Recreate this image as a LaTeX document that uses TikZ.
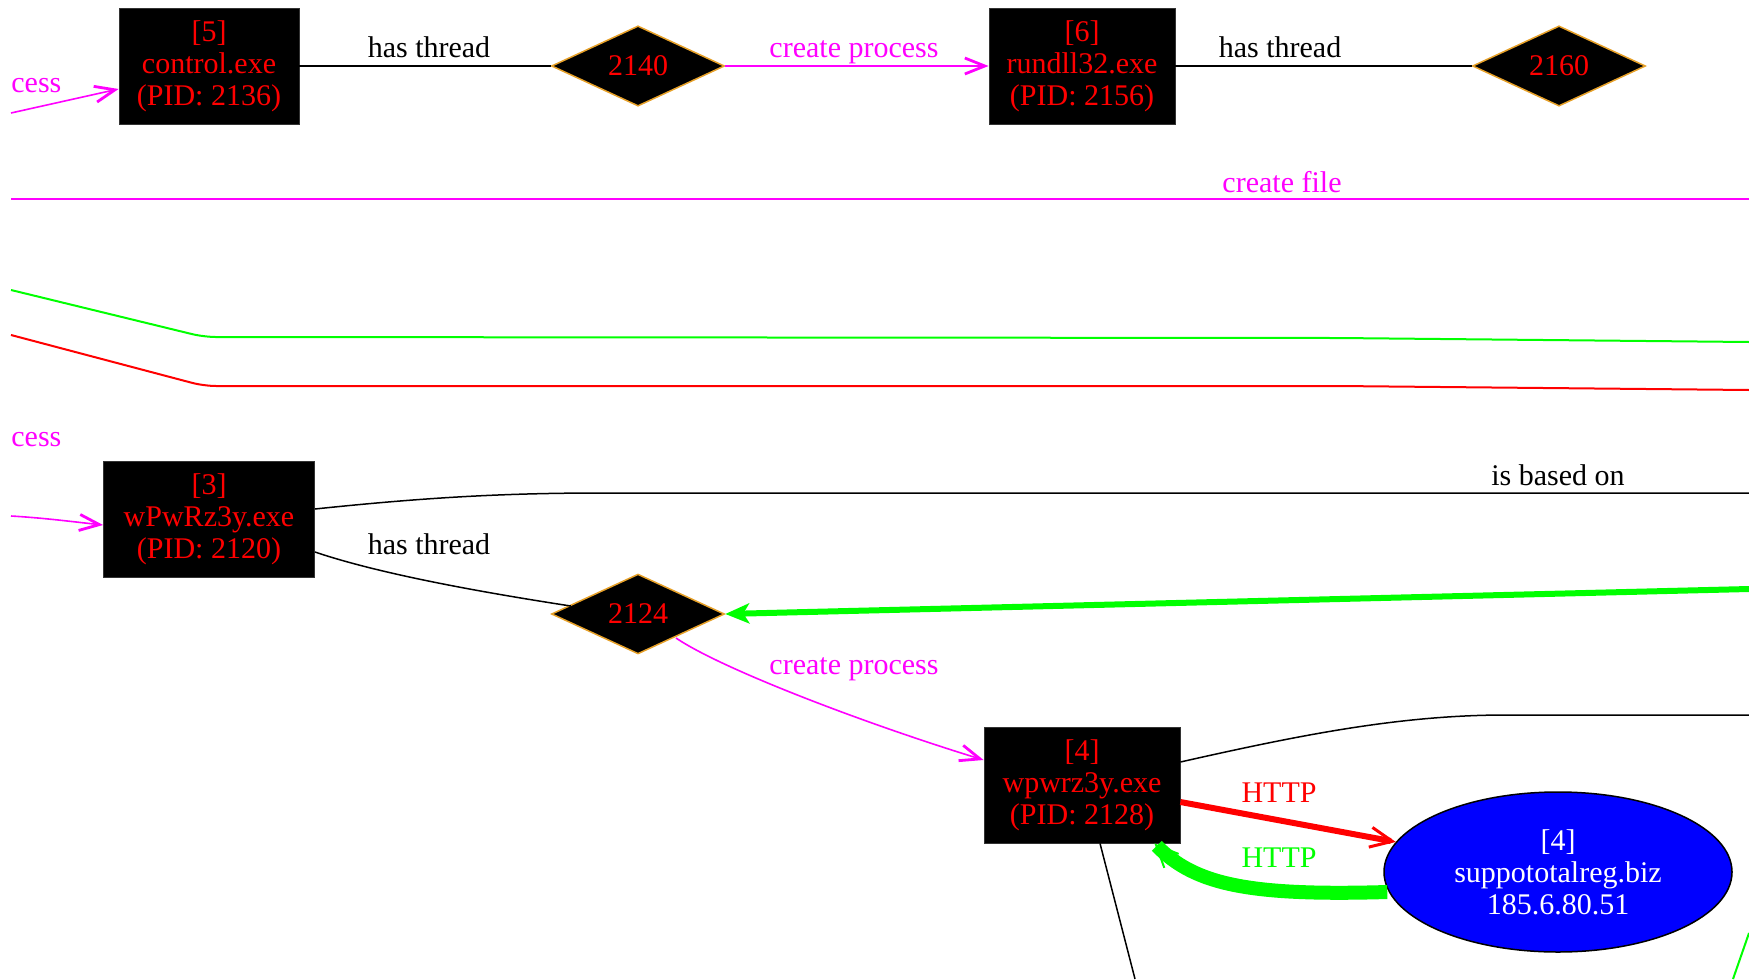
\documentclass[tikz,border=0pt]{standalone}
\usepackage{fontspec}
\setmainfont{Liberation Serif}
\usetikzlibrary{shapes.geometric,arrows.meta}
\definecolor{mag}{RGB}{255,0,255}
\definecolor{lime}{RGB}{0,255,0}
\definecolor{dborder}{RGB}{230,160,40}
\begin{document}
\begin{tikzpicture}[x=0.5pt,y=-0.5pt,
  every node/.style={font=\fontsize{15}{16}\selectfont},
  proc/.style={rectangle,fill=black,draw=black!80,text=red,align=center,minimum height=58pt,inner sep=0pt},
  thr/.style={diamond,fill=black,draw=dborder,line width=0.75pt,text=red,minimum width=86.5pt,minimum height=38pt,inner sep=0pt},
  dom/.style={ellipse,fill=blue,draw=black,line width=0.75pt,text=white,align=center,minimum width=174pt,minimum height=80pt,inner sep=0pt},
  lbl/.style={inner sep=0pt},
  blk/.style={draw=black,line width=0.75pt},
  mg/.style={draw=mag,line width=0.8pt},
  barb/.style={-{Straight Barb[length=10pt,width=8pt,line width=1.4pt]}},
]
\useasboundingbox (0,0) rectangle (1749,979);

% nodes
\node[proc,minimum width=90pt] (n5) at (209,66) {[5]\\control.exe\\(PID: 2136)};
\node[thr] (t2140) at (638,66) {2140};
\node[proc,minimum width=93pt] (n6) at (1082,66) {[6]\\rundll32.exe\\(PID: 2156)};
\node[thr] (t2160) at (1559,66) {2160};
\node[proc,minimum width=105.5pt] (n3) at (209,519) {[3]\\wPwRz3y.exe\\(PID: 2120)};
\node[thr] (t2124) at (638,614) {2124};
\node[proc,minimum width=98pt] (n4) at (1082,785) {[4]\\wpwrz3y.exe\\(PID: 2128)};
\node[dom] (d4) at (1558,872) {[4]\\suppototalreg.biz\\185.6.80.51};

% free ends
\coordinate (a5) at (11,113);
\coordinate (a3) at (11,516);
\coordinate (cfL) at (11,199);
\coordinate (cfR) at (1749,199);
\coordinate (gL) at (11,290);
\coordinate (gR) at (1749,342);
\coordinate (rL) at (11,335);
\coordinate (rR) at (1749,390);
\coordinate (ibR) at (1749,493);
\coordinate (g2124) at (1749,589);
\coordinate (n4R) at (1749,715);
\coordinate (n4B) at (1135,979);
\coordinate (gbA) at (1749,933);
\coordinate (gbB) at (1733,979);

% row 1
\draw[mg,barb] (a5) -- ([yshift=-11.5pt]n5.west);
\node[lbl,text=mag,anchor=west] (c1) at (11,86) {cess};
\draw[blk] (n5) -- (t2140);
\node[lbl] (l1) at (429,47) {has thread};
\draw[mg,barb] (t2140) -- (n6);
\node[lbl,text=mag] (l2) at (854,52) {create process};
\draw[blk] (n6) -- (t2160);
\node[lbl] (l3) at (1280,47) {has thread};

% long lines
\draw[draw=mag,line width=1pt] (cfL) -- (cfR);
\node[lbl,text=mag] (l4) at (1282,182) {create file};
\draw[draw=lime,line width=1pt,rounded corners=6pt] (gL) -- (204,337) -- (1338,338) -- (gR);
\draw[draw=red,line width=1pt,rounded corners=6pt] (rL) -- (204,386) -- (1338,386) -- (rR);

% row 3
\node[lbl,text=mag,anchor=west] (c2) at (11,440) {cess};
\draw[mg,barb] (a3) .. controls (45,518) and (75,522) .. ([yshift=-3pt]n3.west);
\draw[blk] ([yshift=5pt]n3.east) .. controls (420,498) and (500,493) .. (602,493) -- (ibR);
\node[lbl] (l5) at (1558,475) {is based on};
\draw[blk] ([yshift=-16.5pt]n3.east) .. controls (380,574) and (480,592) .. ([xshift=10pt,yshift=4pt]t2124.west);
\node[lbl] (l6) at (429,544) {has thread};
\draw[draw=lime,line width=3pt,-{Stealth[length=12pt,width=10pt,inset=3pt]}] (g2124) -- (t2124.east);
\draw[mg,barb] ([xshift=19pt,yshift=-12pt]t2124.center) .. controls (720,668) and (860,722) .. ([yshift=12.5pt]n4.west);
\node[lbl,text=mag] (l7) at (854,669) {create process};

% row 4
\draw[blk] ([yshift=11.5pt]n4.east) .. controls (1300,735) and (1400,715) .. (1506,715) -- (n4R);
\draw[draw=red,line width=3pt,-{Straight Barb[length=11pt,width=10pt,line width=1.5pt]}] ([yshift=-8.5pt]n4.east) -- (d4);
\node[lbl,text=red] (l8) at (1279,793) {HTTP};
\draw[draw=lime,line width=7pt,-{Straight Barb[length=11pt,width=10pt,line width=1pt]}] ([xshift=2pt]d4.west |- 0,892) .. controls (1250,896) and (1195,885) .. ([xshift=-13pt]n4.south east);
\node[lbl,text=lime] (l9) at (1279,858) {HTTP};
\draw[blk] ([xshift=9pt]n4.south) -- (n4B);
\draw[draw=lime,line width=1pt] (gbA) -- (gbB);
\end{tikzpicture}
\end{document}
